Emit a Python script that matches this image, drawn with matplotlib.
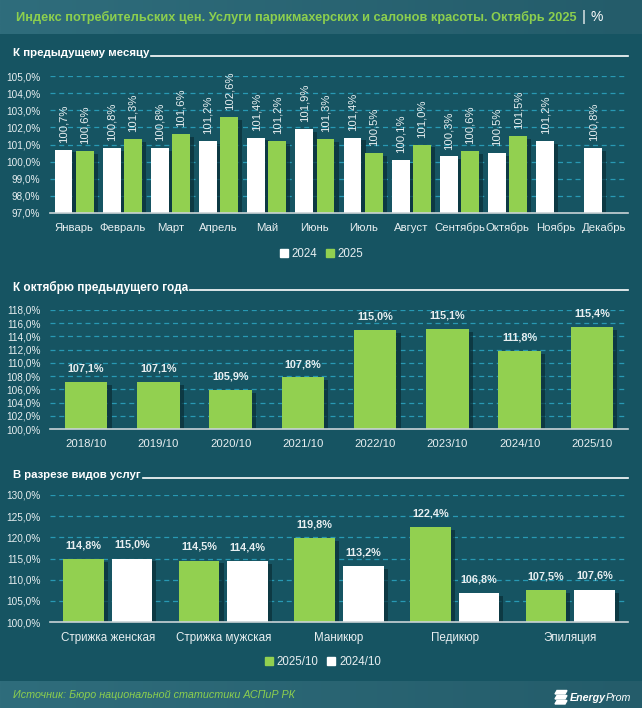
import matplotlib
matplotlib.use("Agg")
import matplotlib.pyplot as plt
import matplotlib.patheffects as pe
from matplotlib.patches import Rectangle, Polygon
from matplotlib.ticker import FuncFormatter
import numpy as np

plt.rcParams["font.family"] = ["Liberation Sans", "DejaVu Sans"]

# --- data -------------------------------------------------------------------
months = ["Январь", "Февраль", "Март", "Апрель", "Май", "Июнь", "Июль",
          "Август", "Сентябрь", "Октябрь", "Ноябрь", "Декабрь"]
mom_2024 = [100.7, 100.8, 100.8, 101.2, 101.4, 101.9, 101.4, 100.1, 100.3, 100.5, 101.2, 100.8]
mom_2025 = [100.6, 101.3, 101.6, 102.6, 101.2, 101.3, 100.5, 101.0, 100.6, 101.5, None, None]

years = ["2018/10", "2019/10", "2020/10", "2021/10", "2022/10", "2023/10", "2024/10", "2025/10"]
yoy = [107.1, 107.1, 105.9, 107.8, 115.0, 115.1, 111.8, 115.4]

services = ["Стрижка женская", "Стрижка мужская", "Маникюр", "Педикюр", "Эпиляция"]
svc_2025 = [114.8, 114.5, 119.8, 122.4, 107.5]
svc_2024 = [115.0, 114.4, 113.2, 106.8, 107.6]

# --- style ------------------------------------------------------------------
BG = "#165462"
GREEN = "#92d050"
TITLE_GREEN = "#8ccf4e"
WHITE = "#ffffff"
GRID = "#2899b3"
TXT = "#e8eff1"
W, H = 642, 708

fig = plt.figure(figsize=(W / 100, H / 100), dpi=100, facecolor=BG)


def px_axes(x0, y0, x1, y1):
    """axes from pixel box (top-left origin)"""
    return fig.add_axes([x0 / W, 1 - y1 / H, (x1 - x0) / W, (y1 - y0) / H])


def pct(v, _=None):
    return f"{v:.1f}%".replace(".", ",")


def fit(t, width_px):
    # scale the font so the text spans the measured width
    fig.canvas.draw()
    w = t.get_window_extent().width
    t.set_fontsize(t.get_fontsize() * width_px / w)
    fig.canvas.draw()
    return t.get_window_extent()


def shadow():
    return [pe.SimplePatchShadow(offset=(3, -2), shadow_rgbFace="#0a2e37", alpha=0.7), pe.Normal()]


def style_ax(ax, lo, hi, step, xfs):
    ax.set_facecolor("none")
    ax.set_ylim(lo, hi)
    ax.set_yticks(np.arange(lo, hi + 0.01, step))
    ax.yaxis.set_major_formatter(FuncFormatter(pct))
    ax.grid(axis="y", color=GRID, linestyle=(0, (4, 3)), linewidth=0.9)
    ax.set_axisbelow(True)
    for s in ["left", "right", "top"]:
        ax.spines[s].set_visible(False)
    ax.spines["bottom"].set_color("#c9d3d6")
    ax.spines["bottom"].set_linewidth(1.2)
    ax.tick_params(axis="y", length=0, pad=7, labelsize=7.2, labelcolor=TXT)
    ax.tick_params(axis="x", length=0, pad=7, labelsize=xfs, labelcolor=TXT)


def section_title(y, text, width_px):
    t = fig.text(13 / W, 1 - y / H, text, color=WHITE, fontsize=9, fontweight="bold",
                 va="center", ha="left")
    bb = fit(t, width_px)
    fig.add_artist(plt.Line2D([bb.x1 / W + 0.003, 628 / W], [1 - (y + 3) / H] * 2,
                              color=WHITE, linewidth=1.2))


# header / footer bands (soft left-to-right gradient)
grad = np.linspace(0, 1, 256).reshape(1, -1)
band_cmap = matplotlib.colors.LinearSegmentedColormap.from_list("h", ["#2f6d7c", "#245c6a"])
for (y0, h) in [(1 - 34 / H, 34 / H), (0, 27 / H)]:
    bax = fig.add_axes([0, y0, 1, h], zorder=0)
    bax.imshow(grad, aspect="auto", extent=[0, 1, 0, 1], cmap=band_cmap)
    bax.axis("off")

t = fig.text(16 / W, 1 - 17 / H,
             "Индекс потребительских цен. Услуги парикмахерских и салонов красоты. Октябрь 2025",
             color=TITLE_GREEN, fontsize=9, fontweight="bold", va="center")
bb = fit(t, 560)
fig.text(bb.x1 / W + 0.008, 1 - 17 / H, "|", color=WHITE, fontsize=11, va="center")
fig.text(bb.x1 / W + 0.022, 1 - 17 / H, "%", color=WHITE, fontsize=10, va="center")

# --- chart 1: month to month -------------------------------------------------
section_title(53, "К предыдущему месяцу", 137)
ax1 = px_axes(50, 76, 628, 213)
style_ax(ax1, 97, 105, 1, 8.2)
x = np.arange(len(months))
bw = 0.37
for i, v in enumerate(mom_2024):
    ax1.bar(x[i] - 0.22, v - 97, bottom=97, width=bw, color=WHITE, path_effects=shadow())
    ax1.annotate(pct(v), (x[i] - 0.22, v), xytext=(0, 5), textcoords="offset points",
                 rotation=90, ha="center", va="bottom", color=TXT, fontsize=8.1)
for i, v in enumerate(mom_2025):
    if v is None:
        continue
    ax1.bar(x[i] + 0.22, v - 97, bottom=97, width=bw, color=GREEN, path_effects=shadow())
    ax1.annotate(pct(v), (x[i] + 0.22, v), xytext=(0, 5), textcoords="offset points",
                 rotation=90, ha="center", va="bottom", color=TXT, fontsize=8.1)
ax1.set_xlim(-0.5, len(months) - 0.5)
ax1.set_xticks(x)
ax1.set_xticklabels(months)
h1 = [Rectangle((0, 0), 1, 1, color=WHITE), Rectangle((0, 0), 1, 1, color=GREEN)]
ax1.legend(h1, ["2024", "2025"], loc="center", bbox_to_anchor=(0.47, -0.30), ncol=2,
           frameon=False, handlelength=0.7, handleheight=0.7, handletextpad=0.3,
           columnspacing=0.8, labelcolor=TXT, fontsize=8.3)

# --- chart 2: to October of previous year ------------------------------------
section_title(287, "К октябрю предыдущего года", 175)
ax2 = px_axes(50, 310, 628, 429)
style_ax(ax2, 100, 118, 2, 8.2)
x2 = np.arange(len(years))
ax2.bar(x2, np.array(yoy) - 100, bottom=100, width=0.59, color=GREEN, path_effects=shadow())
for xi, v in zip(x2, yoy):
    ax2.annotate(pct(v), (xi, v), xytext=(0, 9.5), textcoords="offset points",
                 ha="center", va="center", color=TXT, fontsize=7.8, fontweight="bold")
ax2.set_xlim(-0.5, len(years) - 0.5)
ax2.set_xticks(x2)
ax2.set_xticklabels(years)

# --- chart 3: by service -----------------------------------------------------
section_title(475, "В разрезе видов услуг", 128)
ax3 = px_axes(50, 495, 628, 622)
style_ax(ax3, 100, 130, 5, 8.4)
x3 = np.arange(len(services))
ax3.bar(x3 - 0.21, np.array(svc_2025) - 100, bottom=100, width=0.35, color=GREEN,
        path_effects=shadow())
ax3.bar(x3 + 0.21, np.array(svc_2024) - 100, bottom=100, width=0.35, color=WHITE,
        path_effects=shadow())
for xi, v in zip(x3, svc_2025):
    ax3.annotate(pct(v), (xi - 0.21, v), xytext=(0, 10), textcoords="offset points",
                 ha="center", va="center", color=TXT, fontsize=7.8, fontweight="bold")
for xi, v in zip(x3, svc_2024):
    ax3.annotate(pct(v), (xi + 0.21, v), xytext=(0, 10), textcoords="offset points",
                 ha="center", va="center", color=TXT, fontsize=7.8, fontweight="bold")
ax3.set_xlim(-0.5, len(services) - 0.5)
ax3.set_xticks(x3)
ax3.set_xticklabels(services)
h3 = [Rectangle((0, 0), 1, 1, color=GREEN), Rectangle((0, 0), 1, 1, color=WHITE)]
ax3.legend(h3, ["2025/10", "2024/10"], loc="center", bbox_to_anchor=(0.472, -0.315), ncol=2,
           frameon=False, handlelength=0.7, handleheight=0.7, handletextpad=0.3,
           columnspacing=0.8, labelcolor=TXT, fontsize=8.3)

# --- footer ------------------------------------------------------------------
src = fig.text(13 / W, 13 / H, "Источник: Бюро национальной статистики АСПиР РК",
               color=TITLE_GREEN, fontsize=8, style="italic", va="center")
fit(src, 284)
lg = fig.text(570 / W, 10 / H, "Energy", color=WHITE, fontsize=8.5, style="italic",
              fontweight="bold", ha="left", va="center")
lb = fit(lg, 36)
fig.text(lb.x1 / W, 10 / H, "Prom", color=WHITE, fontsize=lg.get_fontsize(), style="italic",
         ha="left", va="center")
# logo mark: three slanted stripes
for k in range(3):
    yb = (4 + k * 5) / H
    x0 = 555 / W
    fig.add_artist(Polygon([[x0, yb], [x0 + 10 / W, yb], [x0 + 12 / W, yb + 3.5 / H],
                            [x0 + 2 / W, yb + 3.5 / H]],
                           closed=True, color=WHITE, transform=fig.transFigure))

fig.savefig("out.png", dpi=100, facecolor=BG)
